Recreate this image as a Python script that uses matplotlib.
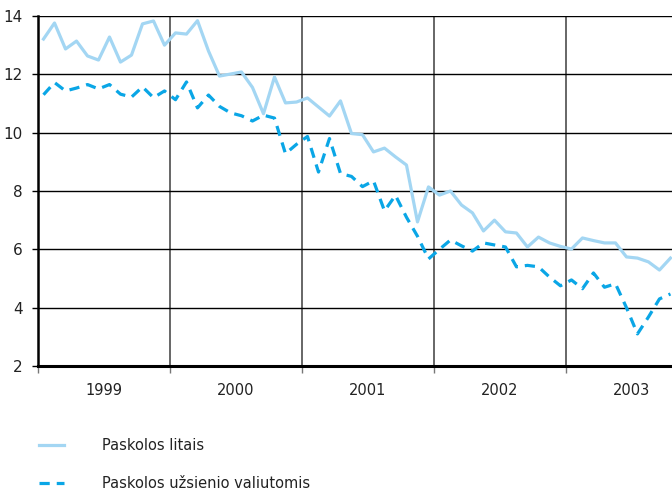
import numpy as np
import matplotlib
matplotlib.use("Agg")
import matplotlib.pyplot as plt

plt.rcParams['font.family'] = ['Liberation Sans Narrow', 'DejaVu Sans']

# monthly values, Jan 1999 - Oct 2003
years = ["1999", "2000", "2001", "2002", "2003"]

litais = [13.21, 13.76, 12.87, 13.14, 12.63, 12.49, 13.28, 12.42, 12.66, 13.73, 13.83, 13.00,
          13.42, 13.38, 13.84, 12.80, 11.94, 12.01, 12.08, 11.55, 10.65, 11.91, 11.02, 11.05,
          11.19, 10.88, 10.57, 11.09, 9.97, 9.93, 9.34, 9.47, 9.17, 8.89, 6.94, 8.14,
          7.86, 8.00, 7.52, 7.25, 6.63, 7.00, 6.60, 6.56, 6.08, 6.42, 6.22, 6.10,
          6.01, 6.39, 6.30, 6.22, 6.22, 5.74, 5.70, 5.57, 5.29, 5.70]

valiutomis = [11.30, 11.72, 11.43, 11.53, 11.65, 11.50, 11.65, 11.32, 11.22, 11.57, 11.20, 11.43,
              11.13, 11.74, 10.85, 11.29, 10.90, 10.68, 10.58, 10.40, 10.60, 10.50, 9.28, 9.60,
              9.87, 8.65, 9.80, 8.60, 8.50, 8.15, 8.35, 7.32, 7.85, 7.10, 6.45, 5.67,
              6.00, 6.32, 6.12, 5.94, 6.22, 6.15, 6.08, 5.40, 5.45, 5.40, 5.05, 4.75,
              4.95, 4.65, 5.19, 4.70, 4.82, 4.00, 3.10, 3.68, 4.30, 4.47]

x = np.arange(len(litais)) + 0.5

fig = plt.figure(figsize=(6.72, 4.94), dpi=100)
ax = fig.add_axes([38/672, 1 - 366/494, 1 - 38/672, 350/494])

ax.plot(x, litais, color='#a3d6f3', lw=2.3, label='Paskolos litais', zorder=3)
ax.plot(x, valiutomis, color='#0aa6e6', lw=2.3, dashes=(3.2, 2.2),
        label='Paskolos užsienio valiutomis', zorder=3)

ax.set_xlim(0, 57.64)
ax.set_ylim(2, 14)
ax.set_yticks(np.arange(2, 15, 2))
ax.set_yticklabels([str(v) for v in range(2, 15, 2)], fontsize=11, color='#222222')

# year boundaries as major ticks, labels at year centres
ax.set_xticks([12 * i for i in range(len(years))])
ax.set_xticklabels([])
ax.set_xticks([12 * i + 6 for i in range(len(years))], minor=True)
ax.set_xticklabels(years, minor=True, fontsize=10.5, color='#222222')
ax.tick_params(axis='x', which='minor', length=0, pad=12)
ax.tick_params(axis='x', which='major', length=5, color='#777777', width=1)
ax.tick_params(axis='y', length=4, width=1, pad=7)

ax.grid(axis='y', color='black', lw=1.0, zorder=1)
ax.grid(axis='x', which='major', color='#666666', lw=1.4, zorder=1)

for s in ['top', 'right']:
    ax.spines[s].set_visible(False)
ax.spines['left'].set_linewidth(1.8)
ax.spines['bottom'].set_linewidth(2.2)

leg = ax.legend(loc='upper left', bbox_to_anchor=(32/672, 1 - 431/494), bbox_transform=fig.transFigure,
                frameon=False, fontsize=10.5, handlelength=1.7, handletextpad=2.6, labelspacing=1.55,
                borderpad=0)
for t in leg.get_texts():
    t.set_color('#222222')

fig.savefig('out.png', dpi=100)
